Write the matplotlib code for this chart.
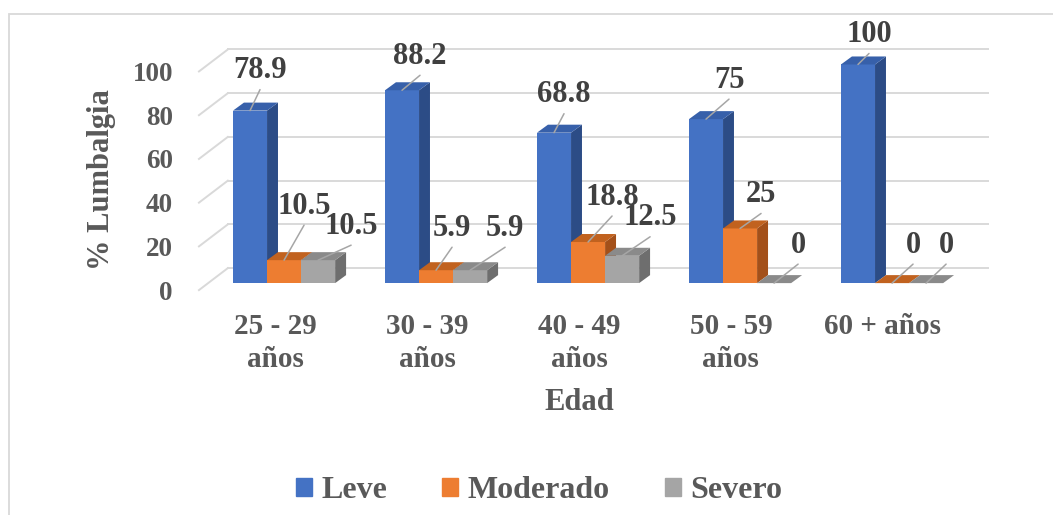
import matplotlib
matplotlib.use("Agg")
import matplotlib.pyplot as plt
from matplotlib.patches import Polygon, Patch, Rectangle

plt.rcParams["font.family"] = ["Liberation Serif", "DejaVu Serif"]
plt.rcParams["font.weight"] = "bold"

# datos: porcentaje de lumbalgia por grupo de edad
edades = ["25 - 29\naños", "30 - 39\naños", "40 - 49\naños", "50 - 59\naños", "60 + años"]
series = ["Leve", "Moderado", "Severo"]
leve = [78.9, 88.2, 68.8, 75, 100]
moderado = [10.5, 5.9, 18.8, 25, 0]
severo = [10.5, 5.9, 12.5, 0, 0]
yticks = [0, 20, 40, 60, 80, 100]

valores = [leve, moderado, severo]
frente = ["#4472C4", "#ED7D31", "#A5A5A5"]
lado = ["#2C4C86", "#A3501A", "#6E6E6E"]
tapa = ["#3760AA", "#C1621F", "#8A8A8A"]

# desplazamiento de cada etiqueta respecto a la cara superior (pixeles)
offs = [
    [(10, 40), (18, 34), (10, 38), (23, 39), (11, 30)],
    [(20, 54), (16, 42), (24, 45), (21, 34), (21, 38)],
    [(33, 34), (35, 42), (28, 38), (24, 38), (20, 38)],
]

ancho = 0.224          # ancho de barra en unidades de categoria
bdx, bdy = 0.072, 3.66  # profundidad de la barra
wdx, wdy = 0.13, 6.86   # pared del fondo
fdx, fdy = -0.06, -3.2  # borde delantero del piso
gris = "#D9D9D9"
texto = "#595959"

fig = plt.figure(figsize=(10.53, 5.15), dpi=100)
ax = fig.add_axes([0.1719, 0.4078, 0.8196, 0.5307])
ax.set_xlim(-0.678, 5.0)
ax.set_ylim(-10, 115)
for s in ax.spines.values():
    s.set_visible(False)

# rejilla en la pared del fondo y en la pared lateral
x0, x1 = -0.5, 4.5
for v in yticks:
    ax.plot([x0 + wdx, x1 + wdx], [v + wdy, v + wdy], color=gris, lw=1.4, zorder=1)
    ax.plot([x0 + fdx, x0 + wdx], [v + fdy, v + wdy], color=gris, lw=1.4, zorder=1)

# barras 3D: cara frontal, lateral y superior
z = 2
for i in range(len(edades)):
    for s in range(len(series)):
        v = valores[s][i]
        xl = i - 1.5 * ancho + s * ancho
        xr = xl + ancho
        ax.bar(xl, v, ancho, align="edge", color=frente[s], lw=0, zorder=z)
        ax.add_patch(Polygon([(xr, 0), (xr + bdx, bdy), (xr + bdx, v + bdy), (xr, v)],
                             closed=True, fc=lado[s], lw=0, zorder=z))
        ax.add_patch(Polygon([(xl, v), (xr, v), (xr + bdx, v + bdy), (xl + bdx, v + bdy)],
                             closed=True, fc=tapa[s], lw=0, zorder=z))
        z += 1

# etiquetas de datos con linea guia
for s in range(len(series)):
    for i in range(len(edades)):
        v = valores[s][i]
        xc = i - 1.5 * ancho + s * ancho + ancho / 2
        dx, dy = offs[s][i]
        ax.annotate("", xy=(xc, v), xytext=(dx, dy - 19), textcoords="offset pixels",
                    arrowprops=dict(arrowstyle="-", color="#A6A6A6", lw=1.1,
                                    shrinkA=0, shrinkB=0), zorder=50)
        ax.annotate("%g" % v, xy=(xc, v), xytext=(dx, dy), textcoords="offset pixels",
                    ha="center", va="center", fontsize=22, color="#404040",
                    fontweight="bold", zorder=51)

ax.set_yticks([v + fdy for v in yticks], [str(v) for v in yticks])
ax.set_xticks([i + fdx for i in range(len(edades))], edades)
ax.tick_params(axis="y", length=0, pad=5.8, labelsize=19.5, labelcolor=texto)
ax.tick_params(axis="x", length=0, pad=5.5, labelsize=21, labelcolor=texto)
for lbl in ax.get_xticklabels() + ax.get_yticklabels():
    lbl.set_fontweight("bold")
for lbl in ax.get_xticklabels():
    lbl.set_linespacing(1.3)

fig.text(579 / 1053, 1 - 403 / 515, "Edad", ha="center", va="center",
         fontsize=22, color=texto, fontweight="bold")
fig.text(102 / 1053, 1 - 180 / 515, "% Lumbalgia", ha="center", va="center",
         rotation=90, fontsize=22, color=texto, fontweight="bold")

handles = [Patch(color=c, label=n) for c, n in zip(frente, series)]
leg = fig.legend(handles=handles, loc="center", bbox_to_anchor=(539 / 1053, 1 - 491 / 515),
                 ncol=3, frameon=False, fontsize=23, handlelength=0.5, handleheight=0.5,
                 handletextpad=0.3, columnspacing=1.72)
for t in leg.get_texts():
    t.set_color(texto)
    t.set_fontweight("bold")

# marco del grafico
fig.patches.append(Rectangle((9 / 1053, -0.2), 1.2, 1.2 - 14 / 515, transform=fig.transFigure,
                             fill=False, ec=gris, lw=1.3, zorder=0))

fig.savefig("out.png", dpi=100)
